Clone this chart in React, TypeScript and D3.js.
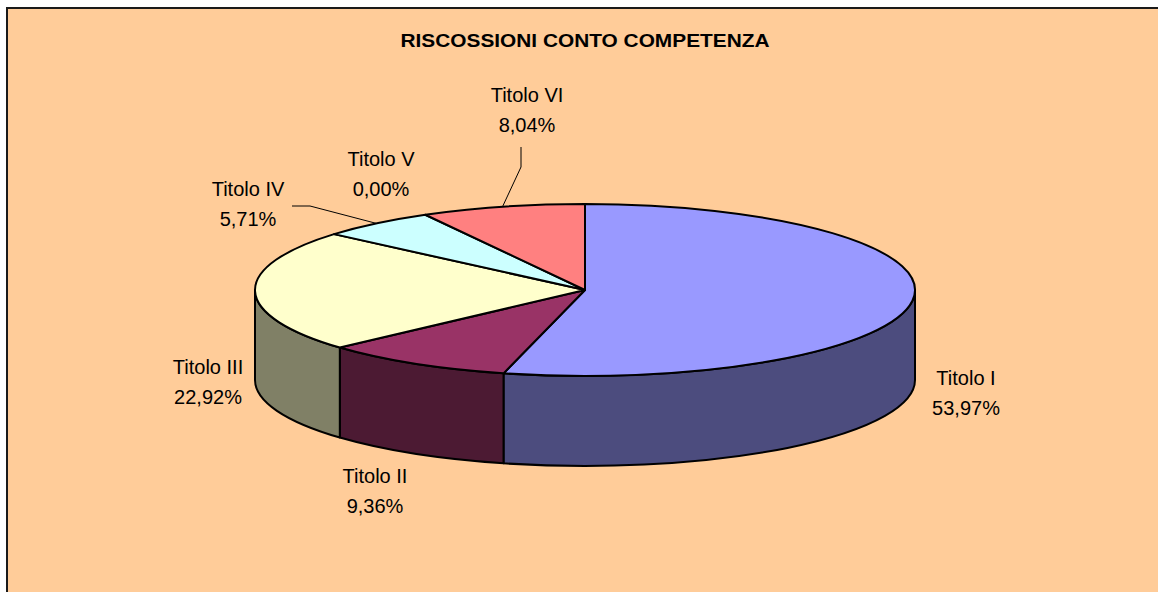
import { useEffect, useRef } from 'react';
import * as d3 from 'd3';

// data
const categories = ['Titolo I', 'Titolo II', 'Titolo III', 'Titolo IV', 'Titolo V', 'Titolo VI'];
const shares = [53.97, 9.36, 22.92, 5.71, 0.0, 8.04];
const percentLabels = ['53,97%', '9,36%', '22,92%', '5,71%', '0,00%', '8,04%'];

// styling
const topColors = ['#9999FF', '#993366', '#FFFFCC', '#CCFFFF', '#FFFFFF', '#FF8080'];
const sideColors = ['#4C4C7E', '#4C1A33', '#808066', '#668080', '#808080', '#804040'];

// label centre (x, first baseline) and leader elbow/anchor (null = no leader)
const labelLayout = [
  { x: 966, y: 385, leader: null },
  { x: 375, y: 483, leader: null },
  { x: 208, y: 374, leader: null },
  { x: 248, y: 196, leader: [[292, 206], [310, 206]] },
  { x: 381, y: 166, leader: null },
  { x: 527, y: 102, leader: [[521, 147], [521, 167]] },
];

const W = 1158;
const H = 592;

export default function App() {
  const svgRef = useRef<SVGSVGElement | null>(null);

  useEffect(() => {
    if (!svgRef.current) return;
    const svg = d3.select(svgRef.current);
    svg.selectAll('*').remove();

    // frame
    svg.append('rect')
      .attr('x', 7).attr('y', 8)
      .attr('width', W + 20).attr('height', H + 20)
      .attr('fill', '#FFCC99')
      .attr('stroke', '#1a1a1a')
      .attr('stroke-width', 2);

    svg.append('text')
      .attr('x', 585).attr('y', 47)
      .attr('text-anchor', 'middle')
      .attr('font-family', '"Liberation Sans", Arial, sans-serif')
      .attr('font-weight', 'bold')
      .attr('font-size', 19)
      .attr('textLength', 369)
      .attr('lengthAdjust', 'spacingAndGlyphs')
      .attr('fill', '#000')
      .text('RISCOSSIONI CONTO COMPETENZA');

    const cx = 585, cy = 290, rx = 330, ry = 86, depth = 90;
    const P = (a: number, dy = 0): [number, number] => [cx + rx * Math.sin(a), cy - ry * Math.cos(a) + dy];

    const arcs = d3.pie<number>().sort(null).value(d => d)(shares);

    const g = svg.append('g');

    // side walls (front half only)
    arcs.forEach((d, i) => {
      const s = Math.max(d.startAngle, Math.PI / 2);
      const e = Math.min(d.endAngle, 1.5 * Math.PI);
      if (e <= s) return;
      const [x0, y0] = P(s);
      const [x1, y1] = P(e);
      const large = e - s > Math.PI ? 1 : 0;
      const path = `M${x0},${y0} A${rx},${ry} 0 ${large} 1 ${x1},${y1} L${x1},${y1 + depth} A${rx},${ry} 0 ${large} 0 ${x0},${y0 + depth} Z`;
      g.append('path')
        .attr('d', path)
        .attr('fill', sideColors[i])
        .attr('stroke', '#000')
        .attr('stroke-width', 2)
        .attr('stroke-linejoin', 'round');
    });

    // top faces
    arcs.forEach((d, i) => {
      if (d.endAngle - d.startAngle <= 0) return;
      const [x0, y0] = P(d.startAngle);
      const [x1, y1] = P(d.endAngle);
      const large = d.endAngle - d.startAngle > Math.PI ? 1 : 0;
      const path = `M${cx},${cy} L${x0},${y0} A${rx},${ry} 0 ${large} 1 ${x1},${y1} Z`;
      g.append('path')
        .attr('d', path)
        .attr('fill', topColors[i])
        .attr('stroke', '#000')
        .attr('stroke-width', 2)
        .attr('stroke-linejoin', 'round');
    });

    // leader lines
    arcs.forEach((d, i) => {
      const lay = labelLayout[i];
      if (!lay.leader) return;
      const mid = (d.startAngle + d.endAngle) / 2;
      const pts = [...lay.leader, P(mid)] as [number, number][];
      svg.append('path')
        .attr('d', d3.line()(pts))
        .attr('fill', 'none')
        .attr('stroke', '#000')
        .attr('stroke-width', 1);
    });

    // labels
    categories.forEach((c, i) => {
      const lay = labelLayout[i];
      const t = svg.append('text')
        .attr('text-anchor', 'middle')
        .attr('font-family', '"Liberation Sans", Arial, sans-serif')
        .attr('font-size', 20)
        .attr('fill', '#000');
      t.append('tspan').attr('x', lay.x).attr('y', lay.y).text(c);
      t.append('tspan').attr('x', lay.x).attr('y', lay.y + 30).text(percentLabels[i]);
    });
  }, []);

  return (
    <div style={{ position: 'absolute', left: 0, top: 0, width: W, height: H, overflow: 'hidden', background: '#fff' }}>
      <svg ref={svgRef} width={W} height={H} style={{ display: 'block' }} />
    </div>
  );
}
